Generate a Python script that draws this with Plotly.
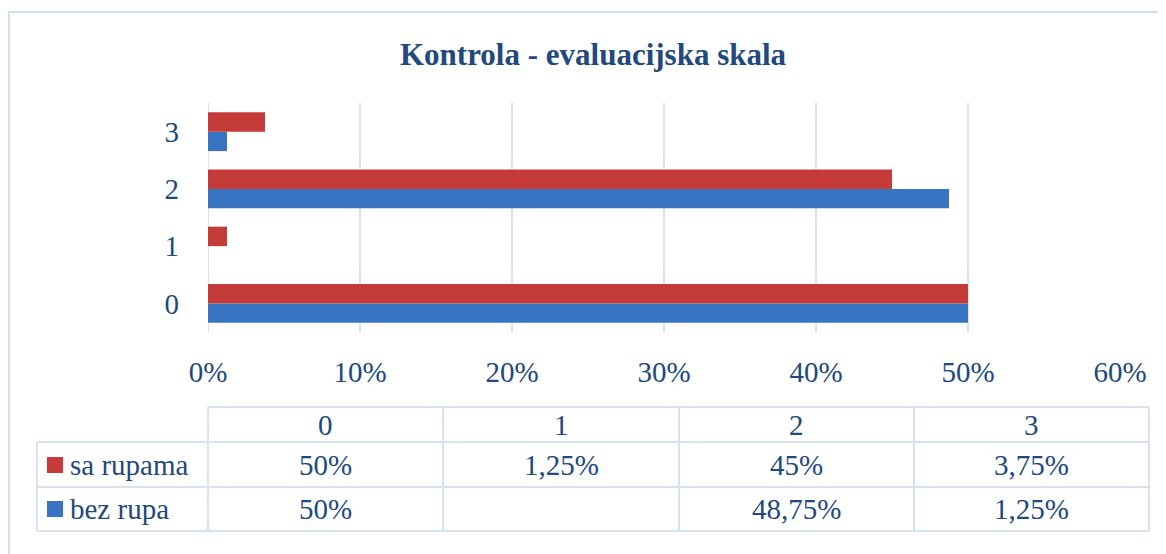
import plotly.graph_objects as go

categories = ["0", "1", "2", "3"]
series_names = ["sa rupama", "bez rupa"]
sa_rupama = [0.50, 0.0125, 0.45, 0.0375]
bez_rupa = [0.50, None, 0.4875, 0.0125]
x_ticks = [0, 0.1, 0.2, 0.3, 0.4, 0.5, 0.6]

RED = "#C43B39"
BLUE = "#3874C2"
TXT = "#21497E"
GRID = "#D9E4F3"
FONT = "Liberation Serif, serif"

OFF = 8  # page body margin
W, H = 1166 - OFF, 554 - OFF
L, R, T, B = 208 - OFF, 1120 - OFF, 103 - OFF, 332 - OFF


def px(p):
    return (p - OFF - L) / (R - L)


def py(p):
    return (B - (p - OFF)) / (B - T)


def fmt(v):
    if v is None:
        return ""
    return f"{v * 100:g}".replace(".", ",") + "%"


fig = go.Figure()
fig.add_trace(go.Bar(name=series_names[1], y=categories, x=bez_rupa, orientation="h",
                     marker=dict(color=BLUE, line=dict(width=0))))
fig.add_trace(go.Bar(name=series_names[0], y=categories, x=sa_rupama, orientation="h",
                     marker=dict(color=RED, line=dict(width=0))))

shapes = []
shapes.append(dict(type="rect", xref="paper", yref="paper", x0=px(9), x1=px(1180), y0=py(12), y1=py(570),
                   line=dict(color="#D3E0F1", width=2), layer="below"))

line_style = dict(color="#D6E2F2", width=2)
col_edges = [208, 443, 679, 914, 1149]
row_edges = [407, 442, 487, 531]
shapes.append(dict(type="line", xref="paper", yref="paper", x0=px(208), x1=px(1149), y0=py(407), y1=py(407), line=line_style))
for yy in row_edges[1:]:
    shapes.append(dict(type="line", xref="paper", yref="paper", x0=px(37), x1=px(1149), y0=py(yy), y1=py(yy), line=line_style))
shapes.append(dict(type="line", xref="paper", yref="paper", x0=px(37), x1=px(37), y0=py(442), y1=py(531), line=line_style))
for xx in col_edges:
    shapes.append(dict(type="line", xref="paper", yref="paper", x0=px(xx), x1=px(xx), y0=py(407), y1=py(531), line=line_style))

shapes.append(dict(type="rect", xref="paper", yref="paper", x0=px(47), x1=px(63), y0=py(457), y1=py(473),
                   fillcolor=RED, line=dict(width=0)))
shapes.append(dict(type="rect", xref="paper", yref="paper", x0=px(47), x1=px(63), y0=py(501), y1=py(517),
                   fillcolor=BLUE, line=dict(width=0)))

annotations = []
fs = 29
col_centers = [(col_edges[i] + col_edges[i + 1]) / 2 for i in range(4)]
row_centers = [(row_edges[i] + row_edges[i + 1]) / 2 for i in range(3)]
for i, c in enumerate(categories):
    annotations.append(dict(x=px(col_centers[i]), y=py(row_centers[0]), xref="paper", yref="paper", text=c,
                            showarrow=False, font=dict(size=fs, color=TXT, family=FONT), xanchor="center", yanchor="middle"))
for r, vals in enumerate([sa_rupama, bez_rupa]):
    for i, v in enumerate(vals):
        annotations.append(dict(x=px(col_centers[i]), y=py(row_centers[r + 1]), xref="paper", yref="paper",
                                text=fmt(v), showarrow=False, font=dict(size=fs, color=TXT, family=FONT),
                                xanchor="center", yanchor="middle"))
    annotations.append(dict(x=px(68), y=py(row_centers[r + 1]), xref="paper", yref="paper", text=series_names[r],
                            showarrow=False, font=dict(size=fs, color=TXT, family=FONT), xanchor="left", yanchor="middle"))

fig.update_layout(
    width=W, height=H,
    margin=dict(l=L, r=W - R, t=T, b=H - B),
    paper_bgcolor="white", plot_bgcolor="white",
    barmode="group", bargap=0.32, bargroupgap=0,
    showlegend=False,
    font=dict(family=FONT, color=TXT),
    title=dict(text="<b>Kontrola - evaluacijska skala</b>", x=(593 - OFF) / W, xref="container", xanchor="center",
               y=1 - (54 - OFF) / H, yanchor="middle", font=dict(size=31, color=TXT, family=FONT)),
    xaxis=dict(range=[0, 0.6], tickvals=x_ticks, tickformat=".0%", showgrid=True, gridcolor=GRID, gridwidth=2,
               zeroline=False, showline=False, ticks="", tickfont=dict(size=fs, color=TXT, family=FONT),
               ticklabelstandoff=20),
    yaxis=dict(type="category", categoryorder="array", categoryarray=categories, range=[-0.5, 3.5],
               showgrid=False, zeroline=False, showline=False, ticks="",
               tickfont=dict(size=fs, color=TXT, family=FONT), ticklabelstandoff=28),
    shapes=shapes, annotations=annotations,
)
fig.add_shape(type="line", xref="x", yref="paper", x0=0, x1=0, y0=0, y1=1, line=dict(color=GRID, width=2), layer="below")

fig.write_html("out.html")
